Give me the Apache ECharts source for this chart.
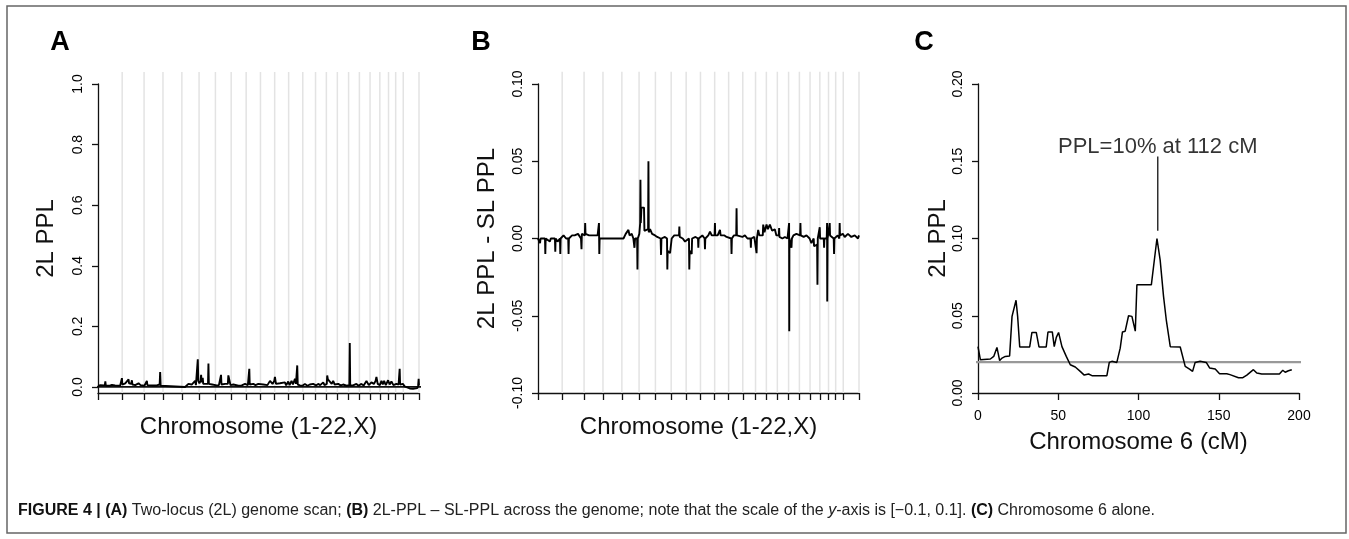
<!DOCTYPE html>
<html>
<head>
<meta charset="utf-8">
<script src="https://cdn.jsdelivr.net/npm/echarts@6/dist/echarts.min.js"></script>
<style>
  html, body { margin: 0; padding: 0; background: #fff; }
  #chart { width: 1349px; height: 539px; }
</style>
</head>
<body>
<div id="chart"></div>
<script>
// chromosome 1..22, X map lengths (cM)
const chromLengths = [284, 257, 222, 222, 202, 192, 185, 176, 168, 167, 164, 166, 150, 127, 129, 132, 127, 125, 115, 102, 84, 89, 185];

// panel A: genome position (cumulative cM), 2L PPL
const scanA = [
  [0, 0.003], [15, 0.002], [27, 0.006], [40, 0.003], [80, 0.005], [86, 0.018], [92, 0.004], [140, 0.004], [164, 0.007], [200, 0.005], [222, 0.006], [260, 0.004],
  [276, 0.006], [281, 0.029], [286, 0.008], [320, 0.012], [340, 0.006], [359, 0.025], [365, 0.012], [390, 0.01], [398, 0.022], [404, 0.008], [437, 0.006], [476, 0.012], [500, 0.006], [515, 0.004],
  [545, 0.004], [574, 0.02], [580, 0.006], [633, 0.005], [691, 0.005], [700, 0.008], [724, 0.008], [730, 0.049], [736, 0.004], [750, 0],
  [1023, 0], [1040, 0.004], [1062, 0.01], [1080, 0.004], [1101, 0.008], [1140, 0.02], [1150, 0.006], [1166, 0.01], [1172, 0.091], [1178, 0.02], [1191, 0.012], [1205, 0.02], [1211, 0.04], [1217, 0.015], [1230, 0.03], [1236, 0.01], [1258, 0.012], [1292, 0.01], [1297, 0.077], [1302, 0.01], [1316, 0.015], [1340, 0.008], [1355, 0.01], [1394, 0.005],
  [1420, 0.006], [1440, 0.01], [1445, 0.04], [1450, 0.008], [1492, 0.01], [1510, 0.006], [1525, 0.01], [1531, 0.038], [1551, 0.038], [1556, 0.006], [1590, 0.008], [1609, 0.01], [1650, 0.004], [1688, 0.005], [1727, 0.01], [1760, 0.006], [1772, 0.01], [1777, 0.06], [1782, 0.008], [1824, 0.01], [1850, 0.006], [1883, 0.01], [1900, 0.004],
  [1941, 0.008], [1961, 0.01], [1990, 0.006], [2020, 0.02], [2050, 0.01], [2070, 0.02], [2078, 0.033], [2090, 0.01], [2137, 0.012], [2160, 0.006], [2195, 0.015], [2210, 0.005], [2234, 0.018], [2250, 0.006], [2273, 0.02], [2290, 0.008], [2313, 0.027], [2325, 0.01], [2335, 0.012], [2340, 0.071], [2346, 0.008], [2371, 0.005],
  [2400, 0.004], [2430, 0.01], [2460, 0.004], [2488, 0.008], [2510, 0.005], [2527, 0.01], [2560, 0.005], [2586, 0.01], [2610, 0.006], [2645, 0.015], [2660, 0.006], [2687, 0.01], [2692, 0.038], [2700, 0.025], [2723, 0.02], [2745, 0.01], [2762, 0.02], [2780, 0.008], [2821, 0.01], [2850, 0.005], [2879, 0.008], [2920, 0.004], [2952, 0.006], [2957, 0.145], [2962, 0.005], [2996, 0.005], [3035, 0.01], [3060, 0.004],
  [3094, 0.01], [3120, 0.005], [3153, 0.02], [3180, 0.006], [3211, 0.015], [3240, 0.01], [3260, 0.02], [3270, 0.033], [3285, 0.01], [3310, 0.006], [3329, 0.02], [3345, 0.008], [3360, 0.02], [3380, 0.006], [3407, 0.022], [3425, 0.008], [3446, 0.018], [3470, 0.006], [3504, 0.01], [3530, 0.008], [3538, 0.01], [3543, 0.06], [3548, 0.008], [3583, 0.01], [3600, 0.002], [3622, 0], [3661, -0.005], [3700, -0.006], [3719, -0.006], [3750, -0.004], [3760, 0.005], [3766, 0.027], [3770, 0.005]
];

// panel B: genome position (cumulative cM), 2L PPL - SL PPL
const diffB = [
  [0, 0], [20, 0], [24, -0.003], [30, 0], [82, 0], [86, -0.01], [90, 0], [140, -0.002], [150, 0], [199, 0], [203, -0.0085], [207, 0], [230, -0.002], [258, 0], [262, -0.01], [266, 0], [300, 0.002], [330, 0], [355, 0], [359, -0.01], [363, 0], [400, 0.002], [430, 0.002], [470, 0.003], [505, 0], [511, -0.007], [515, 0.003], [550, 0.002], [554, 0.01], [558, 0.003], [600, 0.002], [650, 0.002], [700, 0.002], [711, 0.003], [716, 0.01], [720, -0.01], [724, 0],
  [1004, 0], [1030, 0.003], [1050, 0.002], [1062, 0.0056], [1075, 0.002], [1101, 0.003], [1120, 0], [1133, -0.006], [1140, 0], [1164, 0], [1168, -0.02], [1172, 0], [1190, 0.003], [1200, 0.01], [1203, 0.038], [1207, 0.01], [1215, 0.02], [1245, 0.02], [1250, 0.005], [1293, 0.006], [1297, 0.05], [1301, 0.004], [1316, 0.006], [1340, 0.003], [1375, 0.002], [1400, 0.001], [1440, 0], [1445, -0.0106], [1450, 0], [1490, 0.001], [1515, 0], [1519, -0.02], [1523, -0.008], [1551, -0.0095], [1570, 0], [1600, 0.002], [1656, 0.002], [1660, 0.0078], [1665, 0.001], [1700, 0], [1727, -0.002], [1773, 0], [1777, -0.02], [1781, -0.008], [1805, -0.01], [1810, 0], [1850, 0.001], [1879, 0], [1883, -0.006], [1887, 0], [1930, 0.002], [1957, 0], [1961, -0.007], [1965, 0],
  [2000, 0.002], [2020, 0.0045], [2040, 0.002], [2074, 0.002], [2078, 0.01], [2082, 0.002], [2110, 0.002], [2137, 0.0056], [2145, 0.002], [2190, 0.002], [2215, 0.001], [2269, 0], [2273, -0.01], [2277, 0], [2300, 0.002], [2328, 0.002], [2332, 0.0196], [2336, 0.002], [2400, 0.001], [2430, 0.002], [2460, 0], [2496, 0], [2500, -0.006], [2504, 0], [2540, 0.001], [2563, 0], [2567, -0.0095], [2571, 0], [2586, 0.0056], [2600, 0.002], [2640, 0.002], [2645, 0.009], [2660, 0.004], [2684, 0.009], [2700, 0.006], [2723, 0.009], [2742, 0.01], [2750, 0.005], [2781, 0.006], [2800, 0.002], [2828, 0.002], [2832, 0.0067], [2836, 0.001], [2870, 0], [2899, 0.001], [2930, 0],
  [2945, 0], [2949, 0.01], [2951, -0.06], [2953, 0], [2977, -0.006], [2982, 0], [3000, 0.002], [3035, 0.003], [3078, 0.002], [3082, 0.01], [3086, 0.002], [3120, 0.001], [3153, 0.002], [3190, 0], [3211, -0.003], [3238, 0], [3242, -0.005], [3260, -0.004], [3278, -0.004], [3282, -0.03], [3286, 0], [3305, 0], [3309, 0.0073], [3313, 0], [3356, 0], [3360, -0.006], [3364, 0], [3391, 0], [3395, 0.01], [3397, -0.0407], [3401, 0], [3422, 0], [3426, 0.01], [3430, 0.002], [3473, 0], [3477, -0.01], [3481, 0], [3520, 0.002], [3539, 0], [3543, 0.01], [3547, 0.002], [3580, 0.003], [3602, 0.001], [3640, 0.003], [3680, 0.001], [3720, 0.002], [3758, 0], [3770, 0.002]
];

// panel C: chromosome 6 position (cM) and 2L PPL
const chr6Pos = [0, 1.5, 2.5, 7.7, 9.8, 11.8, 13.5, 15, 17, 19.7, 21.2, 23.7, 24.7, 26, 32.2, 33.6, 36.3, 38, 42.5, 43.6, 46.3, 47.5, 48.8, 50.2, 52.3, 55, 57.5, 60.6, 63.7, 66.2, 68.9, 71, 80.3, 81.8, 83.4, 86.5, 88.6, 90, 91.7, 93.8, 95.9, 98, 99, 108, 111.5, 113.5, 115.6, 117.3, 119.8, 126, 129.1, 131.8, 133.7, 135.3, 138.4, 142.2, 144.3, 147.8, 150.5, 155, 157, 162.3, 165, 167.5, 171.6, 173.7, 176.8, 187.8, 189.9, 191.4, 193.4, 195.5];
const chr6PPL = [0.030, 0.0215, 0.0205, 0.022, 0.0237, 0.0295, 0.021, 0.0226, 0.0237, 0.024, 0.0496, 0.060, 0.0496, 0.0298, 0.0298, 0.0392, 0.0392, 0.0298, 0.0298, 0.0395, 0.0395, 0.030, 0.036, 0.0392, 0.030, 0.0237, 0.0183, 0.0168, 0.014, 0.0116, 0.0123, 0.0112, 0.0112, 0.0198, 0.0205, 0.0198, 0.029, 0.0395, 0.040, 0.050, 0.0496, 0.040, 0.070, 0.070, 0.100, 0.086, 0.0625, 0.0474, 0.030, 0.0298, 0.0172, 0.0155, 0.014, 0.0198, 0.0205, 0.0198, 0.0162, 0.0155, 0.0125, 0.0125, 0.0119, 0.0099, 0.0099, 0.0116, 0.0151, 0.0129, 0.0123, 0.0123, 0.0147, 0.0134, 0.0144, 0.0151];

const ticksA = [0, 0.2, 0.4, 0.6, 0.8, 1.0];
const refLineA = 0;
const thresholdC = 0.02;
const peakLabel = 'PPL=10% at 112 cM';
const peakPos = 112;
const peakLine = [0.105, 0.153];
const peakTextY = 0.1595;

const boundaries = [0];
chromLengths.forEach(l => boundaries.push(boundaries[boundaries.length - 1] + l));
const genomeLen = boundaries[boundaries.length - 1];
const padA = genomeLen * 0.04;
const padC = 200 * 0.04;

const font = '"Liberation Sans", Arial, Helvetica, sans-serif';
const capFont = '"Liberation Sans", Arial, sans-serif';
const black = '#111';

function gridLines(idx, lo, hi) {
    return boundaries.slice(1).map(b => ({
        type: 'line', xAxisIndex: idx, yAxisIndex: idx,
        data: [[b, lo], [b, hi]], clip: false, symbol: 'none', silent: true, z: 1,
        lineStyle: { color: '#e3e3e3', width: 1.5 }
    }));
}

function xAx(idx, opt) {
    return Object.assign({
        gridIndex: idx, type: 'value',
        axisLine: { show: true, onZero: false, lineStyle: { color: black, width: 1.3 } },
        axisTick: { show: true, length: 7, lineStyle: { color: black, width: 1.3 } },
        axisLabel: { show: false },
        splitLine: { show: false },
        nameLocation: 'middle',
        nameTextStyle: { fontSize: 24, color: black, fontFamily: font }
    }, opt);
}

function yAx(idx, opt) {
    return Object.assign({
        gridIndex: idx, type: 'value',
        axisLine: { show: true, onZero: false, lineStyle: { color: black, width: 1.3 } },
        splitLine: { show: false },
        nameLocation: 'middle',
        nameTextStyle: { fontSize: 24, color: black, fontFamily: font }
    }, opt);
}

const yLabel = (fmt, extra) => Object.assign({
    rotate: 90, margin: 13, fontSize: 14, color: '#000', fontFamily: font, formatter: fmt
}, extra || {});

const chart = echarts.init(document.getElementById('chart'), null, { renderer: 'canvas' });

const option = {
    animation: false,
    backgroundColor: '#fff',
    grid: [
        { left: 98, top: 84, width: 321, height: 309 },
        { left: 538, top: 84, width: 321, height: 309 },
        { left: 978, top: 84, width: 321, height: 309 }
    ],
    xAxis: [
        xAx(0, { min: 0, max: genomeLen, axisTick: { show: true, length: 7, customValues: boundaries, lineStyle: { color: black, width: 1.3 } }, name: 'Chromosome (1-22,X)', nameGap: 22 }),
        xAx(1, { min: 0, max: genomeLen, axisTick: { show: true, length: 7, customValues: boundaries, lineStyle: { color: black, width: 1.3 } }, name: 'Chromosome (1-22,X)', nameGap: 22 }),
        xAx(2, { min: 0, max: 200, interval: 50,
            axisLabel: { show: true, margin: 16, fontSize: 14, color: '#000', fontFamily: font },
            name: 'Chromosome 6 (cM)', nameGap: 37 })
    ],
    yAxis: [
        yAx(0, { min: -0.02, max: 1,
            axisTick: { show: true, length: 6, customValues: ticksA, lineStyle: { color: black, width: 1.3 } },
            axisLabel: yLabel(v => v.toFixed(1), { customValues: ticksA }),
            name: '2L PPL', nameGap: 40 }),
        yAx(1, { min: -0.1, max: 0.1, interval: 0.05,
            axisTick: { show: true, length: 6, lineStyle: { color: black, width: 1.3 } },
            axisLabel: yLabel(v => v.toFixed(2)),
            name: '2L PPL - SL PPL', nameGap: 39 }),
        yAx(2, { min: 0, max: 0.2, interval: 0.05,
            axisTick: { show: true, length: 6, lineStyle: { color: black, width: 1.3 } },
            axisLabel: yLabel(v => v.toFixed(2)),
            name: '2L PPL', nameGap: 20 })
    ],
    series: [
        ...gridLines(0, -0.02, 1.04),
        ...gridLines(1, -0.1, 0.108),
        {
            type: 'line', xAxisIndex: 0, yAxisIndex: 0, data: [[-padA, refLineA], [genomeLen + padA, refLineA]],
            clip: false, symbol: 'none', silent: true, z: 3, lineStyle: { color: black, width: 1.8 }
        },
        {
            type: 'line', xAxisIndex: 0, yAxisIndex: 0, data: scanA,
            symbol: 'none', z: 4, lineStyle: { color: '#000', width: 1.9 }
        },
        {
            type: 'line', xAxisIndex: 1, yAxisIndex: 1, data: diffB,
            symbol: 'none', z: 4, lineStyle: { color: '#000', width: 1.9 }
        },
        {
            type: 'line', xAxisIndex: 2, yAxisIndex: 2, data: [[-padC, thresholdC], [200 + padC, thresholdC]],
            clip: false, symbol: 'none', silent: true, z: 3, lineStyle: { color: '#999', width: 2.4 }
        },
        {
            type: 'line', xAxisIndex: 2, yAxisIndex: 2, data: chr6Pos.map((p, i) => [p, chr6PPL[i]]),
            symbol: 'none', z: 4, lineStyle: { color: '#000', width: 1.5 }
        },
        {
            type: 'line', xAxisIndex: 2, yAxisIndex: 2, data: [[peakPos, peakLine[0]], [peakPos, peakLine[1]]],
            clip: false, symbol: 'none', silent: true, z: 4, lineStyle: { color: '#222', width: 1.4 }
        },
        {
            type: 'scatter', xAxisIndex: 2, yAxisIndex: 2, data: [[peakPos, peakTextY]],
            clip: false, symbolSize: 0.1, itemStyle: { color: 'transparent' }, silent: true,
            label: { show: true, position: 'inside', formatter: peakLabel, fontSize: 22, color: '#000', fontFamily: font }
        }
    ],
    graphic: [
        { type: 'rect', shape: { x: 7, y: 6, width: 1339, height: 527 }, style: { fill: 'none', stroke: '#666', lineWidth: 1.5 }, silent: true },
        { type: 'text', x: 60, y: 43, style: { text: 'A', font: 'bold 27px ' + font, fill: '#000', align: 'center', verticalAlign: 'middle' } },
        { type: 'text', x: 481, y: 43, style: { text: 'B', font: 'bold 27px ' + font, fill: '#000', align: 'center', verticalAlign: 'middle' } },
        { type: 'text', x: 924, y: 43, style: { text: 'C', font: 'bold 27px ' + font, fill: '#000', align: 'center', verticalAlign: 'middle' } },
        {
            type: 'text', x: 18, y: 511,
            style: {
                text: '{b|FIGURE 4 | (A)} Two-locus (2L) genome scan; {b|(B)} 2L-PPL \u2013 SL-PPL across the genome; note that the scale of the {i|y}-axis is [\u22120.1, 0.1]. {b|(C)} Chromosome 6 alone.',
                fontSize: 16, fontFamily: capFont, fill: '#222',
                verticalAlign: 'middle',
                rich: {
                    b: { fontSize: 16, fontWeight: 'bold', fontFamily: capFont, fill: '#111' },
                    i: { fontSize: 16, fontStyle: 'italic', fontFamily: capFont, fill: '#222' }
                }
            }
        }
    ]
};

chart.setOption(option);
window.addEventListener('resize', chart.resize);
</script>
</body>
</html>
